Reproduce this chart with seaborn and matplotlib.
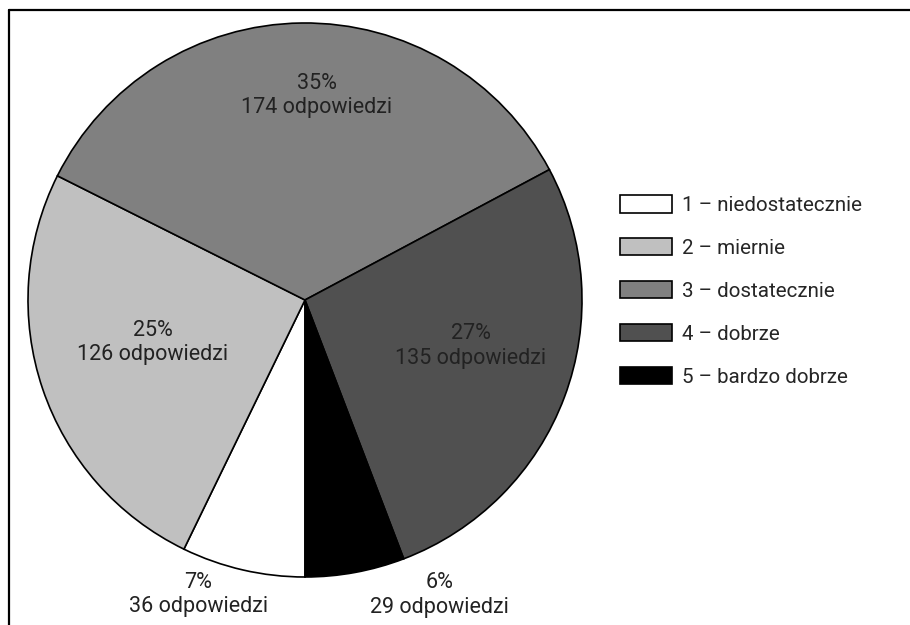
import matplotlib
matplotlib.use("Agg")
import matplotlib.pyplot as plt
from matplotlib.lines import Line2D
import numpy as np
import seaborn as sns

# -----------------------------
# DATA
# -----------------------------
categories = ["1 – niedostatecznie", "2 – miernie", "3 – dostatecznie",
              "4 – dobrze", "5 – bardzo dobrze"]
answers = [36, 126, 174, 135, 29]
percents = [7, 25, 35, 27, 6]
colors = ["#ffffff", "#c0c0c0", "#808080", "#505050", "#000000"]

sns.set_style("white")
plt.rcParams["font.family"] = ["Roboto", "DejaVu Sans"]

fig = plt.figure(figsize=(9.1, 6.25), dpi=100)
ax = fig.add_axes([28 / 910, 48 / 625, 554 / 910, 554 / 625])

wedges, _ = ax.pie(answers, colors=colors, startangle=270, counterclock=False,
                   wedgeprops=dict(edgecolor="black", linewidth=1.2))
ax.set_xlim(-1, 1)
ax.set_ylim(-1, 1)
ax.set_aspect("equal")
ax.axis("off")

# label placement per slice (radius, angle shift)
label_r = [1.13, 0.57, 0.74, 0.62, 1.17]
label_shift = [-7, -3, -4, 5, 14]
for w, p, n, r, s in zip(wedges, percents, answers, label_r, label_shift):
    ang = np.deg2rad((w.theta1 + w.theta2) / 2 + s)
    ax.text(r * np.cos(ang), r * np.sin(ang), f"{p}%\n{n} odpowiedzi",
            ha="center", va="center", fontsize=15.5, color="#222222",
            linespacing=1.2, clip_on=False)

fig.legend(wedges, categories, loc="upper left", bbox_to_anchor=(601 / 910, 1 - 177 / 625),
           frameon=False, fontsize=14.8, handlelength=2.55, handleheight=0.9,
           labelspacing=1.13, handletextpad=0.5)

# frame lines on top and left
fig.add_artist(Line2D([8.5 / 910, 8.5 / 910], [0, 1 - 9.5 / 625], color="black", lw=1.6))
fig.add_artist(Line2D([8.5 / 910, 1], [1 - 9.5 / 625, 1 - 9.5 / 625], color="black", lw=1.6))

fig.savefig("out.png", dpi=100)
